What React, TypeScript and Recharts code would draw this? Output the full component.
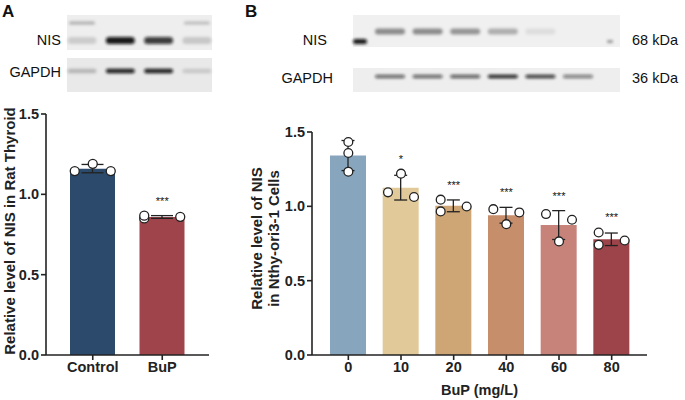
import React from 'react';
import { ComposedChart, Bar, Cell, ErrorBar, Scatter, XAxis, YAxis, Label } from 'recharts';

// Panel A: rat thyroid
const groupsA = ['Control', 'BuP'];
const replicatesA = [
  [1.145, 1.19, 1.145],
  [0.85, 0.867, 0.86],
];
const signifA = ['', '***'];
const colorsA = ['#2c4a6c', '#9f444b'];

// Panel B: Nthy-ori3-1 cells
const dosesB = ['0', '10', '20', '40', '60', '80'];
const replicatesB = [
  [1.433, 1.359, 1.233],
  [1.22, 1.063, 1.094],
  [1.045, 0.966, 0.999],
  [0.981, 0.88, 0.959],
  [0.948, 0.764, 0.91],
  [0.824, 0.741, 0.77],
];
const signifB = ['', '*', '***', '***', '***', '***'];
const colorsB = ['#87a6be', '#e1c999', '#cea574', '#c78e6b', '#c7837a', '#9d434a'];

const yTicks = [0, 0.5, 1, 1.5];

// western blot band intensities (0..1)
const markerBandsA = [0.28, 0, 0, 0.22];
const nisBandsA = [0.14, 0.95, 0.8, 0.16];
const gapdhBandsA = [0.22, 0.92, 0.92, 0.14];
const nisBandsB = [0.42, 0.42, 0.38, 0.28, 0.08, 0];
const gapdhBandsB = [0.62, 0.62, 0.66, 0.92, 0.82, 0.52];

const FONT = '"Liberation Sans", Arial, sans-serif';
const INK = '#222';

const mean = (v: number[]) => v.reduce((a, b) => a + b, 0) / v.length;
const sd = (v: number[]) => {
  const m = mean(v);
  return Math.sqrt(v.reduce((a, b) => a + (b - m) * (b - m), 0) / (v.length - 1));
};

// spread replicates that would overlap vertically into left/right lanes
function lanes(vals: number[], thr: number): number[] {
  const order = vals.map((_, i) => i).sort((a, b) => vals[b] - vals[a]);
  const out = vals.map(() => 0);
  let chain: number[] = [order[0]];
  const flush = () => {
    if (chain.length > 1) chain.forEach((idx, k) => (out[idx] = k % 2 === 0 ? -1 : 1));
  };
  for (let k = 1; k < order.length; k++) {
    if (vals[order[k - 1]] - vals[order[k]] < thr) chain.push(order[k]);
    else {
      flush();
      chain = [order[k]];
    }
  }
  flush();
  return out;
}

function buildRows(names: string[], reps: number[][], sig: string[], thr: number) {
  return names.map((name, i) => {
    const m = mean(reps[i]);
    const s = sd(reps[i]);
    return {
      name,
      mean: m,
      sd: s,
      r0: reps[i][0],
      r1: reps[i][1],
      r2: reps[i][2],
      lanes: lanes(reps[i], thr),
      top: Math.max(m + s, ...reps[i]),
      sig: sig[i],
    };
  });
}

const rowsA = buildRows(groupsA, replicatesA, signifA, 0.04);
const rowsB = buildRows(dosesB, replicatesB, signifB, 0.056);

const dotShape = (rep: number, gap: number, r: number) => (p: any) => (
  <circle
    cx={p.cx + p.payload.lanes[rep] * gap}
    cy={p.cy}
    r={r}
    fill="#fff"
    stroke={INK}
    strokeWidth={1.3}
  />
);

const starShape = (p: any) =>
  p.payload.sig ? (
    <text x={p.cx} y={p.cy - 11} textAnchor="middle" fontSize={11} fill="#111" fontFamily={FONT}>
      {p.payload.sig}
    </text>
  ) : (
    <g />
  );

const tickStyle = { fill: INK, fontSize: 14.5, fontWeight: 'bold', fontFamily: FONT };

function RotTitle({ lines, x, y }: { lines: string[]; x: number[]; y: number }) {
  return (
    <g>
      {lines.map((t, i) => (
        <text
          key={t}
          x={x[i]}
          y={y}
          transform={`rotate(-90, ${x[i]}, ${y})`}
          textAnchor="middle"
          dominantBaseline="central"
          fontSize={15}
          fontWeight="bold"
          fill={INK}
          fontFamily={FONT}
        >
          {t}
        </text>
      ))}
    </g>
  );
}

function Panel({
  rows,
  colors,
  width,
  margin,
  yWidth,
  padX,
  barSize,
  laneGap,
  r,
  capW,
  title,
  titleX,
  titleDy,
  xTitle,
}: any) {
  return (
    <ComposedChart width={width} height={300} data={rows} margin={margin}>
      <XAxis
        dataKey="name"
        type="category"
        allowDuplicatedCategory={false}
        padding={padX}
        height={40}
        stroke={INK}
        strokeWidth={1.6}
        tickSize={5}
        tick={tickStyle}
      >
        {xTitle && (
          <Label
            content={(p: any) => (
              <text
                x={p.viewBox.x + p.viewBox.width / 2}
                y={p.viewBox.y + 35}
                textAnchor="middle"
                dominantBaseline="central"
                fontSize={14.5}
                fontWeight="bold"
                fill={INK}
                fontFamily={FONT}
              >
                {xTitle}
              </text>
            )}
          />
        )}
      </XAxis>
      <YAxis
        domain={[0, 1.5]}
        ticks={yTicks}
        allowDataOverflow
        width={yWidth}
        stroke={INK}
        strokeWidth={1.6}
        tickSize={5}
        tick={tickStyle}
        tickFormatter={(v: number) => v.toFixed(1)}
      >
        <Label
          content={(p: any) => (
            <RotTitle lines={title} x={titleX} y={p.viewBox.y + p.viewBox.height / 2 + titleDy} />
          )}
        />
      </YAxis>
      <Bar dataKey="mean" barSize={barSize} isAnimationActive={false}>
        {rows.map((row: any, i: number) => (
          <Cell key={row.name} fill={colors[i]} />
        ))}
        <ErrorBar dataKey="sd" width={capW} stroke={INK} strokeWidth={1.3} />
      </Bar>
      <Scatter dataKey="r0" shape={dotShape(0, laneGap, r)} isAnimationActive={false} />
      <Scatter dataKey="r1" shape={dotShape(1, laneGap, r)} isAnimationActive={false} />
      <Scatter dataKey="r2" shape={dotShape(2, laneGap, r)} isAnimationActive={false} />
      <Scatter dataKey="top" shape={starShape} isAnimationActive={false} />
    </ComposedChart>
  );
}

function Band({ cx, cy, w, h, a }: { cx: number; cy: number; w: number; h: number; a: number }) {
  if (a <= 0) return null;
  return (
    <rect
      x={cx - w / 2}
      y={cy - h / 2}
      width={w}
      height={h}
      rx={h / 2}
      fill={`rgba(15,15,15,${a})`}
      filter="url(#blur)"
    />
  );
}

function Blots() {
  const laneA = (i: number) => 82 + i * 38.3;
  const laneB = (i: number) => 390 + i * 37.6;
  const label = { fontFamily: FONT, fontSize: 14.5, fill: '#111' };
  return (
    <svg width={685} height={400} style={{ position: 'absolute', left: 0, top: 0, pointerEvents: 'none' }}>
      <defs>
        <filter id="blur" x="-20%" y="-100%" width="140%" height="300%">
          <feGaussianBlur stdDeviation="1.6" />
        </filter>
      </defs>
      <text x={2} y={17} fontFamily={FONT} fontSize={17} fontWeight="bold" fill="#111">A</text>
      <text x={245} y={17} fontFamily={FONT} fontSize={17} fontWeight="bold" fill="#111">B</text>

      {/* A blots */}
      <rect x={67} y={15} width={145} height={35} fill="#eeeeee" />
      <rect x={67} y={58} width={145} height={34} fill="#e9e9e9" />
      {markerBandsA.map((a, i) => <Band key={'m' + i} cx={laneA(i)} cy={23} w={26} h={3} a={a} />)}
      {nisBandsA.map((a, i) => <Band key={'n' + i} cx={laneA(i)} cy={40.5} w={29} h={7} a={a} />)}
      {gapdhBandsA.map((a, i) => <Band key={'g' + i} cx={laneA(i)} cy={71} w={29} h={4.5} a={a} />)}
      <text x={61} y={45} textAnchor="end" {...label}>NIS</text>
      <text x={61} y={77} textAnchor="end" {...label}>GAPDH</text>

      {/* B blots */}
      <rect x={353} y={15} width={267} height={32} fill="#f0f0f0" />
      <rect x={353} y={68} width={267} height={24} fill="#eeeeee" />
      <Band cx={360} cy={41.5} w={14} h={5} a={0.95} />
      <Band cx={610} cy={41.5} w={6} h={2.5} a={0.45} />
      {nisBandsB.map((a, i) => <Band key={'nb' + i} cx={laneB(i)} cy={31.5} w={30} h={6} a={a} />)}
      {gapdhBandsB.map((a, i) => <Band key={'gb' + i} cx={laneB(i)} cy={76.5} w={30} h={3.5} a={a} />)}
      <text x={327} y={44.5} textAnchor="end" {...label}>NIS</text>
      <text x={333} y={83} textAnchor="end" {...label}>GAPDH</text>
      <text x={632} y={44.5} {...label}>68 kDa</text>
      <text x={632} y={83} {...label}>36 kDa</text>
    </svg>
  );
}

export default function App() {
  return (
    <div style={{ position: 'absolute', left: 0, top: 0, width: 685, height: 400, background: '#fff', fontFamily: FONT }}>
      <div style={{ position: 'absolute', left: 0, top: 100 }}>
        <Panel
          rows={rowsA}
          colors={colorsA}
          width={230}
          margin={{ top: 14, right: 21, bottom: 5, left: 0 }}
          yWidth={46}
          padX={{ left: 12, right: 12 }}
          barSize={45}
          laneGap={18}
          r={4.5}
          capW={11}
          title={['Relative level of NIS in Rat Thyroid']}
          titleX={[9.5]}
          titleDy={-3.5}
        />
      </div>
      <div style={{ position: 'absolute', left: 240, top: 100 }}>
        <Panel
          rows={rowsB}
          colors={colorsB}
          width={445}
          margin={{ top: 32, right: 38, bottom: 5, left: 0 }}
          yWidth={72}
          padX={{ left: 10, right: 9 }}
          barSize={36}
          laneGap={13}
          r={4.4}
          capW={6.5}
          title={['Relative level of NIS', 'in Nthy-ori3-1 Cells']}
          titleX={[16.7, 33.3]}
          titleDy={-5}
          xTitle="BuP (mg/L)"
        />
      </div>
      <Blots />
    </div>
  );
}
